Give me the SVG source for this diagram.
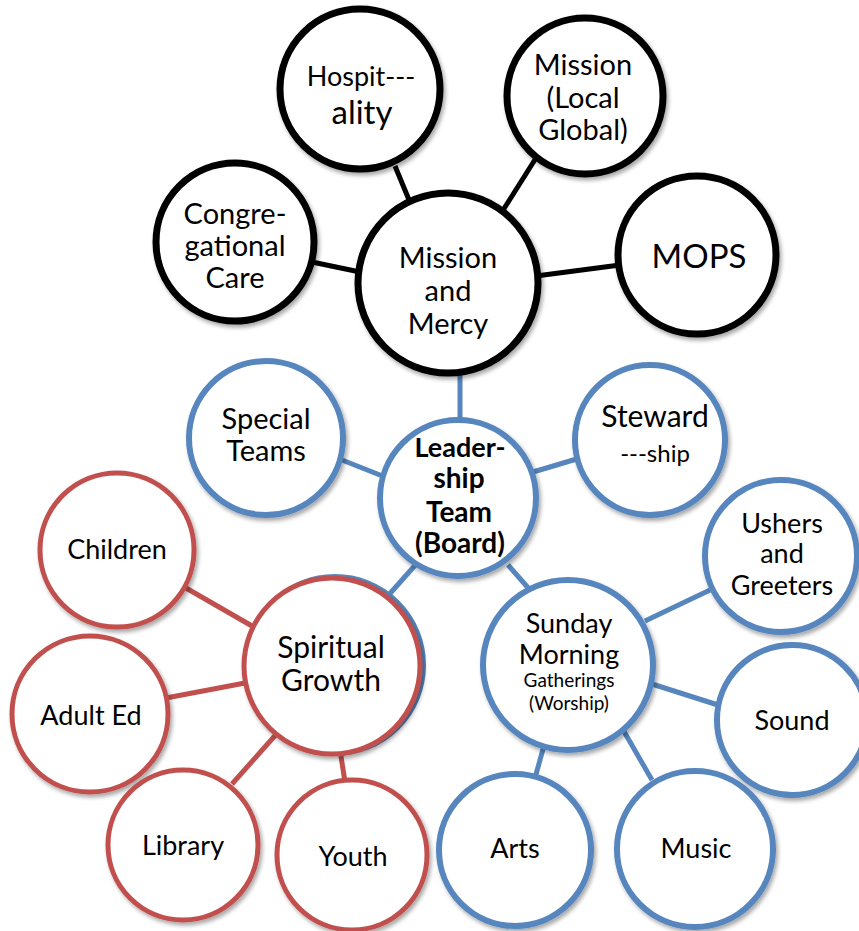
<svg xmlns="http://www.w3.org/2000/svg" width="859" height="931" viewBox="0 0 859 931">
<style>
.k{fill:#fff;stroke:#000;stroke-width:7}
.b{fill:#fff;stroke:#5686bd;stroke-width:6}
.r{fill:#fff;stroke:#c0504d;stroke-width:5}
.lk{stroke:#000;stroke-width:5;fill:none}
.lb{stroke:#5686bd;stroke-width:5;fill:none}
.lr{stroke:#c0504d;stroke-width:5;fill:none}
text{font-family:"Lato","Liberation Sans",sans-serif;fill:#000;text-anchor:middle}
.s{font-size:27px}
</style>
<defs>
<filter id="sh" x="-20%" y="-20%" width="140%" height="140%">
<feGaussianBlur in="SourceAlpha" stdDeviation="2"/>
<feOffset dx="2" dy="3" result="o"/>
<feComponentTransfer><feFuncA type="linear" slope="0.35"/></feComponentTransfer>
<feMerge><feMergeNode/><feMergeNode in="SourceGraphic"/></feMerge>
</filter>
</defs>
<rect width="859" height="931" fill="#fff"/>
<g id="connectors">
<line class="lk" x1="395" y1="166" x2="414" y2="212"/>
<line class="lk" x1="536" y1="158" x2="500" y2="215"/>
<line class="lk" x1="312" y1="262" x2="360" y2="272"/>
<line class="lk" x1="620" y1="265" x2="536" y2="276"/>
<line class="lb" x1="460" y1="372" x2="460" y2="420"/>
<line class="lb" x1="342" y1="460" x2="385" y2="477"/>
<line class="lb" x1="533" y1="472" x2="580" y2="458"/>
<line class="lb" x1="418" y1="562" x2="386" y2="598"/>
<line class="lb" x1="508" y1="565" x2="530" y2="590"/>
<line class="lb" x1="645" y1="621" x2="710" y2="590"/>
<line class="lb" x1="652" y1="684" x2="718" y2="705"/>
<line class="lb" x1="545" y1="742" x2="535" y2="778"/>
<line class="lb" x1="622" y1="728" x2="652" y2="780"/>
<line class="lr" x1="186" y1="588" x2="252" y2="626"/>
<line class="lr" x1="166" y1="698" x2="245" y2="683"/>
<line class="lr" x1="232" y1="784" x2="280" y2="730"/>
<line class="lr" x1="340" y1="750" x2="345" y2="782"/>
</g>
<g id="hospitality"><circle class="k" cx="360" cy="89" r="80" filter="url(#sh)"/><text x="361" y="86" font-size="27">Hospit---</text><text x="362" y="124" font-size="33">ality</text></g>
<g id="mission-local-global"><circle class="k" cx="585" cy="96" r="78" filter="url(#sh)"/><text x="583" y="75" font-size="29">Mission</text><text x="583" y="108" font-size="29">(Local</text><text x="583" y="140" font-size="29">Global)</text></g>
<g id="congregational-care"><circle class="k" cx="235" cy="242" r="79" filter="url(#sh)"/><text x="235" y="224" font-size="29">Congre-</text><text x="235" y="256" font-size="29">gational</text><text x="235" y="288" font-size="29">Care</text></g>
<g id="mops"><circle class="k" cx="697" cy="255" r="79" filter="url(#sh)"/><text x="699" y="268" font-size="33">MOPS</text></g>
<g id="mission-mercy"><circle class="k" cx="448" cy="283" r="90" filter="url(#sh)"/><text x="448" y="268" font-size="29">Mission</text><text x="448" y="301" font-size="29">and</text><text x="448" y="334" font-size="29">Mercy</text></g>
<g id="special-teams"><circle class="b" cx="266" cy="438" r="77" filter="url(#sh)"/><text x="266" y="429" font-size="29">Special</text><text x="266" y="461" font-size="29">Teams</text></g>
<g id="stewardship"><circle class="b" cx="650" cy="440" r="75" filter="url(#sh)"/><text x="655" y="427" font-size="30">Steward</text><text x="655" y="462" font-size="24">---ship</text></g>
<g id="leadership" font-weight="bold"><circle class="b" cx="458" cy="498" r="78" filter="url(#sh)"/><text x="460" y="457" font-size="27">Leader-</text><text x="459" y="488" font-size="28">ship</text><text x="459" y="522" font-size="28">Team</text><text x="460" y="553" font-size="28">(Board)</text></g>
<g id="sunday-morning"><circle class="b" cx="568" cy="665" r="85" filter="url(#sh)"/><text x="569" y="633" font-size="27">Sunday</text><text x="569" y="664" font-size="27">Morning</text><text x="569" y="687" font-size="19">Gatherings</text><text x="569" y="710" font-size="19">(Worship)</text></g>
<g id="ushers-greeters"><circle class="b" cx="781" cy="556" r="76" filter="url(#sh)"/><text x="782" y="533" class="s">Ushers</text><text x="782" y="563" class="s">and</text><text x="782" y="595" class="s">Greeters</text></g>
<g id="sound"><circle class="b" cx="792" cy="720" r="75" filter="url(#sh)"/><text x="792" y="730" class="s">Sound</text></g>
<g id="arts"><circle class="b" cx="515" cy="850" r="76" filter="url(#sh)"/><text x="515" y="858" class="s">Arts</text></g>
<g id="music"><circle class="b" cx="695" cy="849" r="78" filter="url(#sh)"/><text x="696" y="858" class="s">Music</text></g>
<g id="spiritual-growth"><circle class="b" cx="335" cy="665" r="88"/><circle class="r" cx="332" cy="666" r="88" filter="url(#sh)"/><text x="331" y="658" font-size="30">Spiritual</text><text x="331" y="691" font-size="30">Growth</text></g>
<g id="children"><circle class="r" cx="117" cy="550" r="77" filter="url(#sh)"/><text x="117" y="559" class="s">Children</text></g>
<g id="adult-ed"><circle class="r" cx="90" cy="714" r="78" filter="url(#sh)"/><text x="91" y="725" class="s">Adult Ed</text></g>
<g id="library"><circle class="r" cx="183" cy="845" r="75" filter="url(#sh)"/><text x="183" y="855" class="s">Library</text></g>
<g id="youth"><circle class="r" cx="352" cy="855" r="75" filter="url(#sh)"/><text x="353" y="866" class="s">Youth</text></g>
</svg>
